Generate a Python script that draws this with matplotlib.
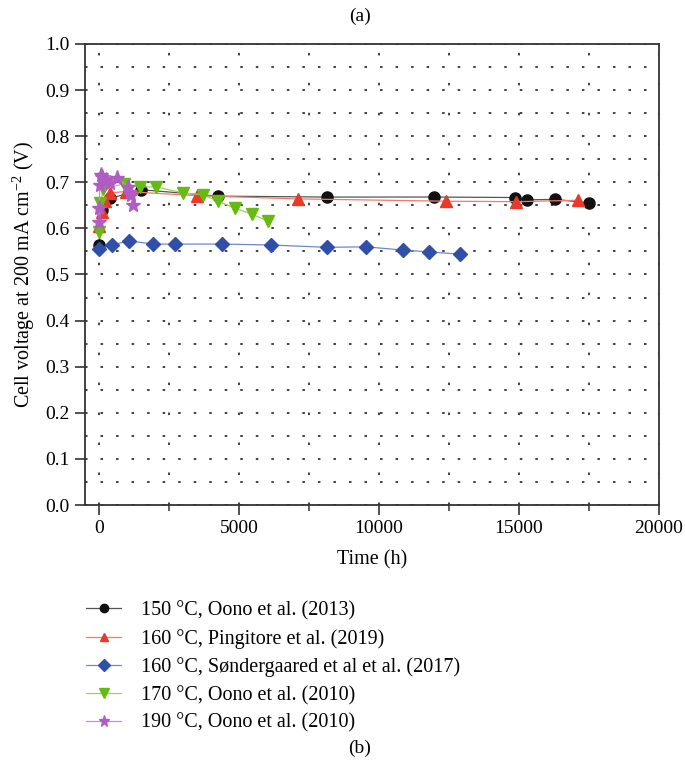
import matplotlib
matplotlib.use('Agg')
import matplotlib.pyplot as plt
from matplotlib.ticker import MultipleLocator

plt.rcParams['font.family'] = ['Liberation Serif', 'DejaVu Serif']
plt.rcParams['mathtext.fontset'] = 'custom'
plt.rcParams['mathtext.rm'] = 'Liberation Serif'
plt.rcParams['mathtext.it'] = 'Liberation Serif:italic'

# 150 C, Oono et al. (2013)
t_150 = [0, 100, 400, 1500, 4250, 8150, 11950, 14850, 15300, 16300, 17500]
v_150 = [0.563, 0.64, 0.665, 0.684, 0.670, 0.668, 0.668, 0.667, 0.662, 0.663, 0.655]

# 160 C, Pingitore et al. (2019)
t_160p = [0, 100, 200, 400, 950, 3500, 7100, 12400, 14900, 17100]
v_160p = [0.605, 0.635, 0.66, 0.677, 0.68, 0.671, 0.664, 0.659, 0.658, 0.661]

# 160 C, Søndergaard et al. (2017)
t_160s = [0, 460, 1070, 1930, 2710, 4390, 6140, 8140, 9540, 10860, 11790, 12900]
v_160s = [0.555, 0.564, 0.573, 0.566, 0.566, 0.566, 0.564, 0.559, 0.560, 0.553, 0.549, 0.544]

# 170 C, Oono et al. (2010)
t_170 = [0, 50, 150, 900, 1450, 2050, 3000, 3700, 4250, 4850, 5450, 6050]
v_170 = [0.592, 0.655, 0.685, 0.697, 0.69, 0.69, 0.677, 0.673, 0.659, 0.644, 0.631, 0.616]

# 190 C, Oono et al. (2010)
t_190 = [0, 0, 30, 60, 120, 250, 400, 650, 1050, 1100, 1150, 1200]
v_190 = [0.614, 0.644, 0.694, 0.716, 0.712, 0.705, 0.698, 0.709, 0.69, 0.68, 0.672, 0.651]

labels = [
    '150 °C, Oono et al. (2013)',
    '160 °C, Pingitore et al. (2019)',
    '160 °C, Søndergaared et al et al. (2017)',
    '170 °C, Oono et al. (2010)',
    '190 °C, Oono et al. (2010)',
]

series = [
    (t_150, v_150, 'o', '#111111', '#555555', 8),
    (t_160p, v_160p, '^', '#e8392a', '#f07a6e', 8.5),
    (t_160s, v_160s, 'D', '#2f4fa8', '#6f88cc', 7.5),
    (t_170, v_170, 'v', '#66bb11', '#98d458', 9),
    (t_190, v_190, '*', '#b05cc4', '#c98ad8', 11),
]

fig = plt.figure(figsize=(6.85, 7.72), dpi=100)
ax = fig.add_axes([85 / 685, 1 - 505 / 772, (659 - 85) / 685, (505 - 44) / 772])

handles = []
for (t, v, m, c, lc, ms), lab in zip(series, labels):
    h, = ax.plot(t, v, color=lc, lw=0.9, marker=m, ms=ms, mfc=c, mec=c,
                 label=lab, zorder=3)
    handles.append(h)

ax.set_xlim(-500, 20000)
ax.set_ylim(0, 1.0)
ax.xaxis.set_major_locator(MultipleLocator(5000))
ax.xaxis.set_minor_locator(MultipleLocator(2500))
ax.yaxis.set_major_locator(MultipleLocator(0.1))
ax.yaxis.set_minor_locator(MultipleLocator(0.05))

ax.grid(True, axis='y', which='both', color='#333333', lw=1.3,
        linestyle=(0, (1.4, 7.2)), zorder=0)
ax.grid(True, axis='x', which='both', color='#333333', lw=1.3,
        linestyle=(0, (1.4, 15.2)), zorder=0)

for s in ax.spines.values():
    s.set_color('#333333')
    s.set_linewidth(1.3)
ax.tick_params(which='major', direction='out', length=7, width=1.2,
               labelsize=14, color='#333333', pad=4)
ax.tick_params(which='minor', direction='out', length=4, width=1.1,
               color='#333333')
ax.tick_params(axis='y', which='minor', length=0)

ax.set_xlabel('Time (h)', fontsize=14.5, labelpad=9)
ax.set_ylabel('Cell voltage at 200 mA cm$^{-2}$ (V)', fontsize=14.5, labelpad=6)

fig.text(0.5 + 0.025, 1 - 16 / 772, '(a)', ha='center', va='center', fontsize=14)
fig.text(0.5 + 0.025, 1 - 748 / 772, '(b)', ha='center', va='center', fontsize=14)

fig.legend(handles=handles, loc='upper left', bbox_to_anchor=(76 / 685, 1 - 591 / 772),
           frameon=False, fontsize=14.5, handlelength=1.75, handletextpad=1.0,
           labelspacing=0.42, markerscale=0.75, borderpad=0)

fig.savefig('out.png', dpi=100)
